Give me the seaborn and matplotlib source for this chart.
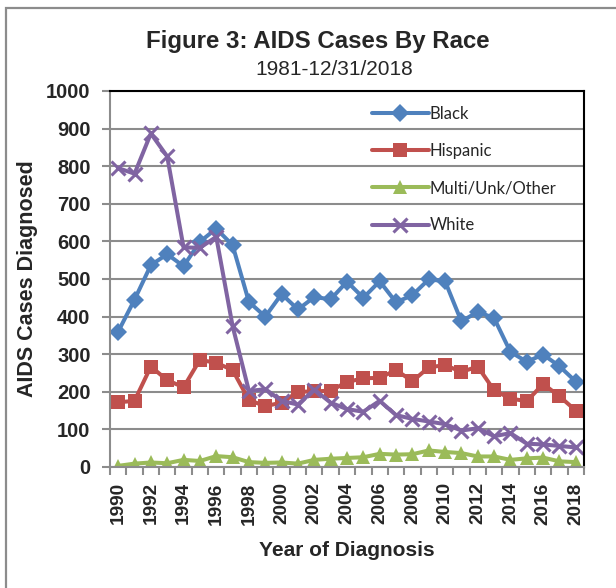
import matplotlib
matplotlib.use("Agg")
import matplotlib.pyplot as plt
from matplotlib.patches import Rectangle
from matplotlib.ticker import FixedLocator, NullFormatter
import seaborn as sns
import pandas as pd
import numpy as np

years = list(range(1990, 2019))
black = [360, 445, 537, 566, 534, 599, 634, 590, 439, 400, 460, 419, 452, 446, 493,
         450, 494, 438, 457, 499, 494, 387, 413, 396, 306, 280, 299, 268, 227]
hispanic = [172, 176, 267, 231, 212, 285, 277, 258, 178, 162, 171, 200, 201, 203, 226,
            236, 237, 258, 228, 265, 271, 253, 267, 204, 182, 175, 221, 188, 150]
multi = [3, 9, 12, 10, 19, 16, 29, 26, 13, 11, 12, 9, 19, 22, 24,
         26, 35, 33, 34, 44, 40, 37, 28, 28, 19, 23, 25, 15, 13]
white = [795, 780, 887, 826, 584, 583, 612, 375, 202, 207, 176, 166, 206, 171, 154,
         147, 176, 138, 128, 121, 114, 97, 103, 82, 90, 62, 60, 56, 52]

series_names = ["Black", "Hispanic", "Multi/Unk/Other", "White"]
series_vals = [black, hispanic, multi, white]
colors = ["#4F81BD", "#C0504D", "#9BBB59", "#8064A2"]
markers = ["D", "s", "^", "x"]
msizes = [9.5, 10, 10.5, 9.5]

yticks = list(range(0, 1001, 100))
xticklabels = [str(y) for y in range(1990, 2019, 2)]

sns.set_style("white")
plt.rcParams["font.family"] = ["Liberation Sans", "DejaVu Sans"]

W, H = 616, 588
fig = plt.figure(figsize=(W / 100, H / 100), dpi=100)
ax = fig.add_axes([110 / W, 1 - 467 / H, (584 - 110) / W, (467 - 91) / H])

for name, vals, c, m, ms in zip(series_names, series_vals, colors, markers, msizes):
    df = pd.DataFrame({"Year": years, "Cases": vals})
    kw = dict(marker=m, markersize=ms, color=c, linewidth=2.9, label=name)
    if m == "x":
        kw.update(markeredgewidth=2.2, markeredgecolor=c)
    else:
        kw.update(markeredgecolor=c, markeredgewidth=0)
    sns.lineplot(data=df, x="Year", y="Cases", ax=ax, **kw)

ax.set_xlim(1989.5, 2018.5)
ax.set_ylim(0, 1000)
ax.set_yticks(yticks)
ax.set_yticklabels([str(v) for v in yticks], fontsize=14.5, fontweight="bold")
ax.yaxis.grid(True, color="#8C8C8C", linewidth=1.5)
ax.xaxis.grid(False)
ax.set_axisbelow(True)

# category boundary ticks (major, unlabeled) + labels at every other year (minor)
ax.xaxis.set_major_locator(FixedLocator(np.arange(1989.5, 2018.6, 1.0)))
ax.xaxis.set_major_formatter(NullFormatter())
ax.xaxis.set_minor_locator(FixedLocator(list(range(1990, 2019, 2))))
ax.set_xticklabels(xticklabels, minor=True, rotation=90, fontsize=13.7, fontweight="bold")
ax.tick_params(axis="x", which="major", direction="out", length=6, width=1.5, color="#8C8C8C", bottom=True)
ax.tick_params(axis="x", which="minor", length=0, pad=11, bottom=True)
ax.tick_params(axis="y", direction="out", length=6, width=1.5, color="#8C8C8C", left=True, pad=8)

for s in ["left", "bottom"]:
    ax.spines[s].set_color("#8C8C8C")
    ax.spines[s].set_linewidth(1.5)
for s in ["top", "right"]:
    ax.spines[s].set_color("black")
    ax.spines[s].set_linewidth(1.5)
    ax.spines[s].set_visible(True)

ax.set_xlabel("Year of Diagnosis", fontsize=15, fontweight="bold", labelpad=11.5)
ax.set_ylabel("AIDS Cases Diagnosed", fontsize=15.5, fontweight="bold")
ax.yaxis.set_label_coords((38 - 110) / (584 - 110), 0.5)

leg = ax.legend(loc="upper left", bbox_to_anchor=((357 - 110) / (584 - 110), 1.0),
                frameon=False, prop={"family": ["Lato", "DejaVu Sans"], "size": 12},
                handlelength=3.4, handletextpad=0.05, labelspacing=1.27, borderaxespad=0.5)

fig.text(318 / W, 1 - 48 / H, "Figure 3: AIDS Cases By Race", ha="center", va="baseline",
         fontsize=17.3, fontweight="bold")
fig.text(334 / W, 1 - 75 / H, "1981-12/31/2018", ha="center", va="baseline", fontsize=15)

fig.add_artist(Rectangle((6 / W, -0.1), 1.2, 1 - 8 / H + 0.1, transform=fig.transFigure,
                         fill=False, edgecolor="#8C8C8C", linewidth=1.6))

fig.savefig("out.png", dpi=100)
